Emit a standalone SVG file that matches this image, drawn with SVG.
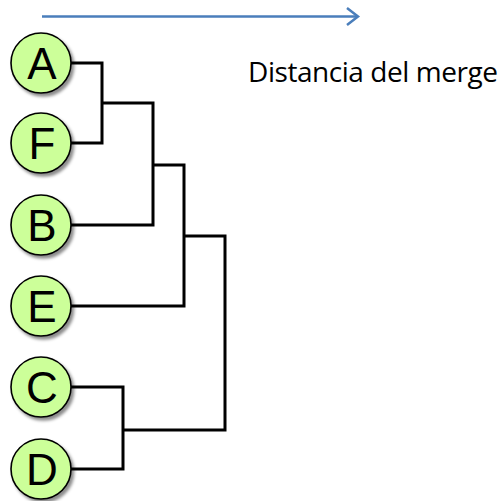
<svg xmlns="http://www.w3.org/2000/svg" width="503" height="501" viewBox="0 0 503 501">
<defs>
<filter id="sh" x="-30%" y="-30%" width="160%" height="160%">
<feDropShadow dx="2.5" dy="3" stdDeviation="1.5" flood-color="#000" flood-opacity="0.45"/>
</filter>
<style>
.n circle{fill:#ccff99;stroke:#000;stroke-width:1.6;filter:url(#sh)}
.n text{font-family:"Liberation Sans",Arial,sans-serif;font-size:44px;text-anchor:middle;fill:#000}
.c path{fill:none;stroke:#000;stroke-width:3}
.ax{fill:none;stroke:#4a7ebb;stroke-width:2.5}
.lbl{font-family:"Open Sans","Liberation Sans",sans-serif;font-size:28px;fill:#000}
</style>
</defs>
<rect width="503" height="501" fill="#fff"/>
<g id="axis">
<path class="ax" d="M42,16.5 H357"/>
<path class="ax" d="M347,8 L358,16.5 L347,25"/>
<text class="lbl" x="248" y="82" textLength="250" lengthAdjust="spacing">Distancia del merge</text>
</g>
<g class="c" id="connectors">
<path d="M71,63 H102 V143 H71"/>
<path d="M102,103 H153 V225 H71"/>
<path d="M153,165 H184 V306 H71"/>
<path d="M184,236 H225 V430 H123"/>
<path d="M71,387 H123 V469 H71"/>
</g>
<g class="n" id="A"><circle cx="41" cy="63" r="30"/><text x="42" y="79">A</text></g>
<g class="n" id="F"><circle cx="41" cy="143" r="30"/><text x="42" y="159">F</text></g>
<g class="n" id="B"><circle cx="41" cy="225" r="30"/><text x="42" y="241">B</text></g>
<g class="n" id="E"><circle cx="41" cy="306" r="30"/><text x="42" y="322">E</text></g>
<g class="n" id="C"><circle cx="41" cy="387" r="30"/><text x="42" y="403">C</text></g>
<g class="n" id="D"><circle cx="41" cy="469" r="30"/><text x="42" y="485">D</text></g>
</svg>
